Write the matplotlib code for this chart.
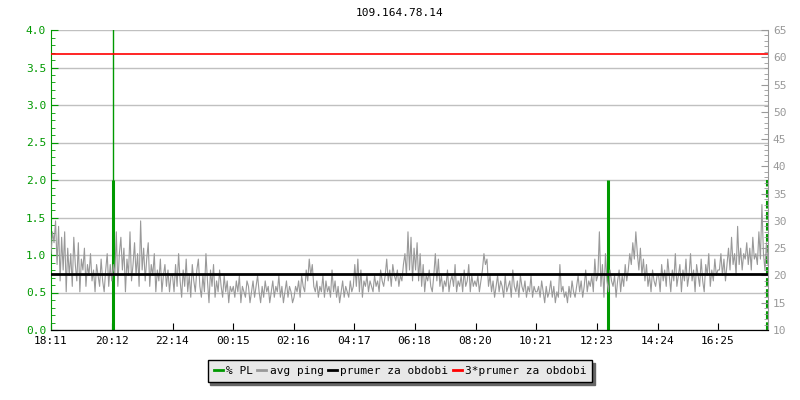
import matplotlib
matplotlib.use("Agg")
import matplotlib.pyplot as plt
from matplotlib.lines import Line2D
from matplotlib.ticker import MultipleLocator
import numpy as np

plt.rcParams['font.family'] = 'DejaVu Sans Mono'
plt.rcParams['font.size'] = 8

title = "109.164.78.14"

# x axis in minutes since 18:11
tick_labels = ["18:11", "20:12", "22:14", "00:15", "02:16", "04:17",
               "06:18", "08:20", "10:21", "12:23", "14:24", "16:25"]
tick_pos = [0, 121, 243, 364, 485, 606, 727, 849, 970, 1092, 1213, 1334]
t_end = 1434

# avg ping [ms], one block per 2 hours
ping_1811 = [24, 28, 26, 30, 22, 29, 19, 27, 21, 28, 17, 25, 20, 24, 18, 27, 22, 19, 26, 17,
             23, 21, 25, 18, 22, 20, 24, 19, 21, 17, 22, 20, 18, 23, 19, 17, 21, 24, 18, 22]
ping_2012 = [19, 22, 20, 28, 18, 24, 27, 21, 25, 17, 23, 20, 28, 19, 22, 26, 20, 24, 18, 30,
             21, 25, 19, 23, 26, 18, 22, 20, 24, 17, 21, 19, 23, 17, 20, 22, 18, 21, 17, 20]
ping_2214 = [20, 17, 22, 18, 24, 19, 16, 21, 18, 23, 17, 20, 16, 22, 19, 17, 21, 23, 18, 16,
             20, 17, 24, 19, 15, 21, 18, 22, 16, 19, 17, 21, 18, 16, 20, 17, 19, 15, 18, 17]
ping_0015 = [18, 16, 19, 17, 20, 15, 18, 17, 16, 19, 18, 15, 17, 19, 16, 18, 20, 17, 15, 18,
             16, 19, 17, 18, 15, 17, 19, 16, 18, 17, 20, 16, 18, 15, 17, 19, 16, 18, 17, 15]
ping_0216 = [16, 18, 17, 19, 16, 20, 18, 17, 21, 19, 23, 20, 22, 18, 17, 19, 16, 18, 17, 20,
             16, 19, 17, 18, 16, 21, 17, 19, 16, 18, 15, 17, 19, 16, 18, 17, 16, 19, 17, 18]
ping_0417 = [22, 18, 23, 17, 21, 16, 19, 18, 20, 17, 19, 18, 17, 20, 18, 19, 17, 21, 19, 18,
             20, 23, 19, 21, 18, 22, 20, 19, 21, 18, 20, 19, 22, 24, 20, 28, 21, 27, 19, 25]
ping_0618 = [21, 26, 19, 24, 18, 22, 17, 20, 19, 21, 18, 17, 20, 24, 19, 23, 18, 20, 17, 19,
             18, 21, 17, 19, 20, 18, 22, 17, 19, 18, 20, 17, 21, 18, 19, 22, 17, 20, 18, 19]
ping_0820 = [18, 20, 17, 19, 21, 24, 22, 23, 18, 20, 17, 19, 16, 18, 20, 17, 19, 18, 16, 20,
             17, 18, 19, 16, 21, 18, 17, 19, 16, 20, 18, 17, 19, 16, 18, 17, 20, 16, 18, 17]
ping_1021 = [17, 18, 16, 19, 17, 15, 18, 16, 17, 19, 16, 18, 15, 17, 16, 22, 17, 18, 16, 17,
             15, 18, 16, 19, 17, 16, 18, 20, 17, 19, 16, 18, 21, 17, 19, 18, 20, 17, 23, 19]
ping_1223 = [20, 28, 18, 22, 16, 24, 19, 17, 21, 19, 18, 20, 16, 19, 21, 17, 20, 18, 22, 19,
             21, 24, 22, 26, 23, 28, 24, 21, 25, 20, 23, 19, 22, 18, 20, 17, 21, 19, 18, 20]
ping_1424 = [20, 17, 22, 19, 21, 18, 23, 20, 17, 21, 19, 24, 18, 20, 22, 17, 21, 19, 23, 18,
             20, 24, 19, 21, 17, 22, 20, 18, 23, 19, 17, 22, 20, 24, 18, 21, 19, 23, 20, 21]
ping_1625 = [21, 24, 20, 23, 19, 22, 25, 21, 27, 22, 24, 20, 29, 22, 25, 21, 24, 23, 26, 22,
             25, 21, 27, 23, 24, 22, 28, 23, 33, 24, 21, 26, 22]

ping = (ping_1811 + ping_2012 + ping_2214 + ping_0015 + ping_0216 + ping_0417 +
        ping_0618 + ping_0820 + ping_1021 + ping_1223 + ping_1424 + ping_1625)
ping_t = np.linspace(0, t_end, len(ping))

avg_ping = 20.2

# packet loss [%]
pl_t = [124, 1114]
pl_val = [2.0, 2.0]
pl_peak_t = [124]
pl_peak_val = [5.0]
pl_last_t = [1432]
pl_last_val = [2.0]

green = '#009900'
gray = '#999999'
grid_c = '#c0c0c0'

fig = plt.figure(figsize=(8, 4), dpi=100)
ax_pl = fig.add_axes([0.06375, 0.175, 0.89625, 0.75])
ax = ax_pl.twinx()

# left axis: % PL
ax_pl.set_ylim(0, 4)
ax_pl.set_xlim(0, t_end)
ax_pl.yaxis.set_major_locator(MultipleLocator(0.5))
ax_pl.yaxis.set_minor_locator(MultipleLocator(0.1))
ax_pl.set_yticks(np.arange(0, 4.01, 0.5))
ax_pl.set_yticklabels([f"{v:.1f}" for v in np.arange(0, 4.01, 0.5)])
ax_pl.grid(axis='y', color=grid_c, linewidth=1)
ax_pl.set_axisbelow(True)
ax_pl.tick_params(axis='y', which='both', direction='in', colors=green, labelcolor=green)
ax_pl.tick_params(axis='y', which='major', length=5)
ax_pl.tick_params(axis='y', which='minor', length=3)
ax_pl.set_xticks(tick_pos)
ax_pl.set_xticklabels(tick_labels)
ax_pl.tick_params(axis='x', direction='in', length=5, color='black', pad=4)
ax_pl.spines['left'].set_color(green)
ax_pl.spines['top'].set_visible(False)
ax_pl.spines['right'].set_visible(False)

ax_pl.vlines(pl_peak_t, 0, pl_peak_val, color=green, linewidth=1)
ax_pl.vlines(pl_t, 0, pl_val, color=green, linewidth=2.2)
ax_pl.vlines(pl_last_t, 0, pl_last_val, color=green, linewidth=1.5, linestyles='--')

# right axis: ping
ax.set_ylim(10, 65)
ax.yaxis.set_major_locator(MultipleLocator(5))
ax.yaxis.set_minor_locator(MultipleLocator(1))
ax.tick_params(axis='y', which='both', direction='in', colors=gray, labelcolor=gray)
ax.tick_params(axis='y', which='major', length=5)
ax.tick_params(axis='y', which='minor', length=3)
ax.spines['right'].set_color(gray)
ax.spines['top'].set_visible(False)
ax.spines['left'].set_visible(False)

ax.plot(ping_t, ping, color=gray, linewidth=0.8)
ax.axhline(avg_ping, color='black', linewidth=2)
ax.axhline(3 * avg_ping, color='red', linewidth=1.2)

fig.text(0.5, 0.967, title, ha='center', va='center', fontsize=8)

handles = [Line2D([], [], color=green, linewidth=2),
           Line2D([], [], color=gray, linewidth=2),
           Line2D([], [], color='black', linewidth=2),
           Line2D([], [], color='red', linewidth=2)]
labels = ["% PL", "avg ping", "prumer za obdobi", "3*prumer za obdobi"]
leg = fig.legend(handles, labels, loc='center', bbox_to_anchor=(0.5, 0.0725), ncol=4,
                 frameon=True, fancybox=False, shadow={'color': '#666666', 'alpha': 1},
                 handlelength=0.8, handletextpad=0.3, columnspacing=0.4,
                 borderpad=0.55, borderaxespad=0, fontsize=8)
leg.get_frame().set_facecolor('#e8e8e8')
leg.get_frame().set_edgecolor('black')
leg.get_frame().set_alpha(1)

plt.savefig('out.png', dpi=100)
